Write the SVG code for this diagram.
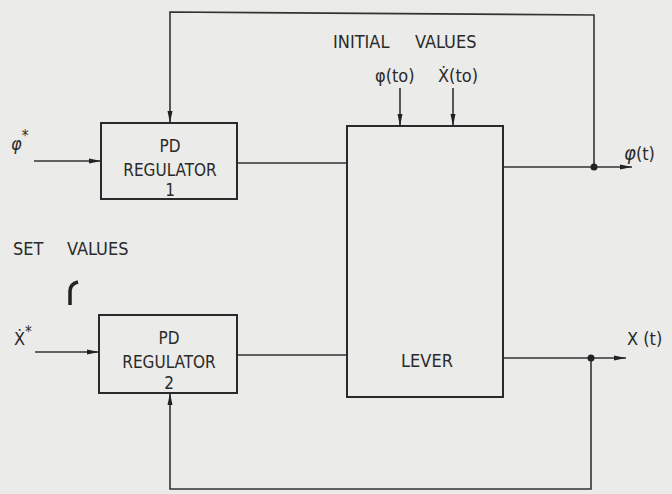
<svg xmlns="http://www.w3.org/2000/svg" width="672" height="494" viewBox="0 0 672 494">
<style>
.box{fill:none;stroke:#2a2a2a;stroke-width:2}
.ln{fill:none;stroke:#333;stroke-width:1.6}
.t{font-family:"DejaVu Sans Condensed","DejaVu Sans","Liberation Sans",sans-serif;font-stretch:condensed;font-size:18px;fill:#2a2a2a}
.b{font-size:17px}
.c{text-anchor:middle}
</style>
<defs>
<marker id="ah" viewBox="0 0 12 6" refX="12" refY="3" markerWidth="12" markerHeight="6" markerUnits="userSpaceOnUse" orient="auto">
<path d="M0,0.5 L12,3 L0,5.5 Z" fill="#222"/>
</marker>
</defs>
<rect width="672" height="494" fill="#ebebe9"/>
<g id="connectors">
<line class="ln" x1="34" y1="161" x2="101" y2="161" marker-end="url(#ah)"/>
<line class="ln" x1="35" y1="352" x2="99" y2="352" marker-end="url(#ah)"/>
<line class="ln" x1="237" y1="163" x2="347" y2="163"/>
<line class="ln" x1="237" y1="355" x2="347" y2="355"/>
<line class="ln" x1="400" y1="88" x2="400" y2="126" marker-end="url(#ah)"/>
<line class="ln" x1="453" y1="88" x2="453" y2="126" marker-end="url(#ah)"/>
<line class="ln" x1="503" y1="167" x2="632" y2="167" marker-end="url(#ah)"/>
<line class="ln" x1="503" y1="358" x2="626" y2="358" marker-end="url(#ah)"/>
<polyline class="ln" points="594,167 594,15 170,12 170,123" marker-end="url(#ah)"/>
<polyline class="ln" points="591,358 591,489 170,489 170,393" marker-end="url(#ah)"/>
<circle cx="594" cy="167" r="3.5" fill="#222"/>
<circle cx="591" cy="358" r="3.5" fill="#222"/>
</g>
<g id="pd1">
<rect class="box" x="101" y="123" width="136" height="76"/>
<text class="t b c" x="170" y="152">PD</text>
<text class="t b c" x="170" y="176">REGULATOR</text>
<text class="t b c" x="170" y="196">1</text>
</g>
<g id="pd2">
<rect class="box" x="99" y="315" width="138" height="78"/>
<text class="t b c" x="169" y="344">PD</text>
<text class="t b c" x="169" y="368">REGULATOR</text>
<text class="t b c" x="169" y="389">2</text>
</g>
<g id="lever">
<rect class="box" x="347" y="126" width="156" height="271"/>
<text class="t c" x="427" y="367">LEVER</text>
</g>
<g id="labels">
<text class="t" x="333" y="48">INITIAL<tspan x="415">VALUES</tspan></text>
<text class="t" x="375" y="82">φ(to)</text>
<text class="t" x="438" y="82">Ẋ(to)</text>
<text class="t" x="13" y="255">SET<tspan x="67">VALUES</tspan></text>
<text class="t" x="11" y="150" font-size="21" font-style="italic">φ<tspan font-size="15" dy="-9">*</tspan></text>
<text class="t" x="14" y="345">Ẋ<tspan font-size="15" dy="-8">*</tspan></text>
<text class="t" x="624" y="160"><tspan font-style="italic" font-size="20">φ</tspan>(t)</text>
<text class="t" x="627" y="345">X (t)</text>
<path d="M70,305 L70,291 Q70,284 78,282" fill="none" stroke="#222" stroke-width="3.5"/>
</g>
</svg>
